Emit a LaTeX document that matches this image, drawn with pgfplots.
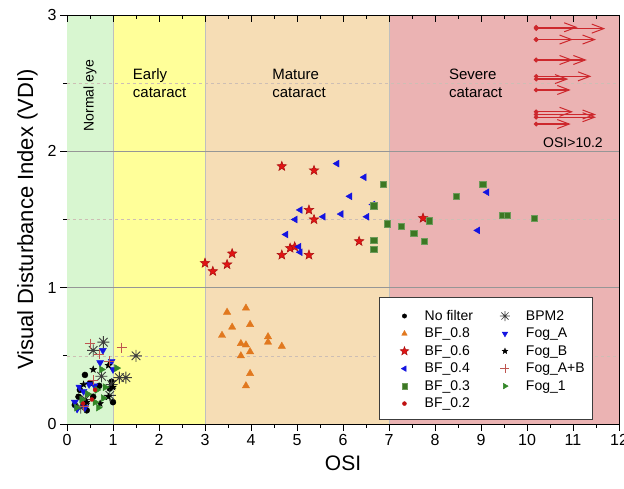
\documentclass[border=0pt]{standalone}
\usepackage{fontspec}
\setmainfont{Liberation Sans}
\usepackage{pgfplots}
\pgfplotsset{compat=1.18}
\usetikzlibrary{arrows.meta}
\definecolor{cNormal}{RGB}{216,246,208}
\definecolor{cEarly}{RGB}{255,255,153}
\definecolor{cMature}{RGB}{246,221,181}
\definecolor{cSevere}{RGB}{235,179,179}
\definecolor{cRed}{RGB}{225,20,20}
\definecolor{cBlue}{RGB}{20,20,225}
\definecolor{cGreen}{RGB}{60,120,35}
\definecolor{cFog}{RGB}{50,135,40}
\definecolor{cOrange}{RGB}{225,120,30}
\definecolor{cGray}{RGB}{60,60,60}
\definecolor{cPlus}{RGB}{190,85,80}
\definecolor{cArrow}{RGB}{205,40,45}
\definecolor{cGrid}{RGB}{150,150,150}
\definecolor{cDash}{RGB}{205,190,180}
% filled five-point star
\pgfdeclareplotmark{fstar}{%
  \pgfpathmoveto{\pgfpointpolar{90}{\pgfplotmarksize}}%
  \pgfpathlineto{\pgfpointpolar{126}{0.42\pgfplotmarksize}}%
  \pgfpathlineto{\pgfpointpolar{162}{\pgfplotmarksize}}%
  \pgfpathlineto{\pgfpointpolar{198}{0.42\pgfplotmarksize}}%
  \pgfpathlineto{\pgfpointpolar{234}{\pgfplotmarksize}}%
  \pgfpathlineto{\pgfpointpolar{270}{0.42\pgfplotmarksize}}%
  \pgfpathlineto{\pgfpointpolar{306}{\pgfplotmarksize}}%
  \pgfpathlineto{\pgfpointpolar{342}{0.42\pgfplotmarksize}}%
  \pgfpathlineto{\pgfpointpolar{18}{\pgfplotmarksize}}%
  \pgfpathlineto{\pgfpointpolar{54}{0.42\pgfplotmarksize}}%
  \pgfpathclose\pgfusepathqfillstroke}
% eight-arm asterisk
\pgfdeclareplotmark{ast8}{%
  \pgfpathmoveto{\pgfpointpolar{0}{\pgfplotmarksize}}\pgfpathlineto{\pgfpointpolar{180}{\pgfplotmarksize}}%
  \pgfpathmoveto{\pgfpointpolar{90}{\pgfplotmarksize}}\pgfpathlineto{\pgfpointpolar{270}{\pgfplotmarksize}}%
  \pgfpathmoveto{\pgfpointpolar{45}{\pgfplotmarksize}}\pgfpathlineto{\pgfpointpolar{225}{\pgfplotmarksize}}%
  \pgfpathmoveto{\pgfpointpolar{135}{\pgfplotmarksize}}\pgfpathlineto{\pgfpointpolar{315}{\pgfplotmarksize}}%
  \pgfusepathqstroke}
\pgfplotsset{
  arr/.style={draw=cArrow,line width=1.3pt,-{Straight Barb[length=12pt,width=9pt,line width=1pt]},forget plot,mark=*,mark size=1.6pt,mark indices={1},mark options={fill=cArrow,draw=cArrow,solid}},
}
\begin{document}
\begin{tikzpicture}
\begin{axis}[name=ax,scale only axis,width=552pt,height=409pt,
  xmin=0,xmax=12,ymin=0,ymax=3,
  xtick={0,1,...,12},ytick={0,1,2,3},minor x tick num=1,minor y tick num=1,
  xtick pos=bottom,ytick pos=left,tick align=outside,
  major tick length=7pt,minor tick length=4pt,
  tick style={line width=0.9pt,black},axis line style={line width=0.9pt},
  tick label style={font=\fontsize{16}{18}\selectfont},
  /pgf/number format/assume math mode=true,
  xlabel={OSI},ylabel={Visual Disturbance Index (VDI)},
  xlabel style={font=\fontsize{21}{24}\selectfont,yshift=-3pt},
  ylabel style={font=\fontsize{22}{24}\selectfont,yshift=3pt},
  legend columns=2,
  legend cell align={left},
  legend style={at={(0.567,0.3105)},anchor=north west,draw=none,fill=none,
    font=\fontsize{14}{16}\selectfont,inner xsep=20pt,inner ysep=11pt,row sep=2.2pt,
    /tikz/every odd column/.append style={column sep=14pt},
    /tikz/every even column/.append style={column sep=25pt}},
]
% stage regions
\addplot[fill=cNormal,draw=none,forget plot] coordinates {(0,0) (1,0) (1,3) (0,3)} -- cycle;
\addplot[fill=cEarly,draw=none,forget plot] coordinates {(1,0) (3,0) (3,3) (1,3)} -- cycle;
\addplot[fill=cMature,draw=none,forget plot] coordinates {(3,0) (7,0) (7,3) (3,3)} -- cycle;
\addplot[fill=cSevere,draw=none,forget plot] coordinates {(7,0) (12,0) (12,3) (7,3)} -- cycle;
\addplot[draw=black!25,line width=0.6pt,forget plot] coordinates {(1,0) (1,3)};
\addplot[draw=black!25,line width=0.6pt,forget plot] coordinates {(3,0) (3,3)};
\addplot[draw=black!25,line width=0.6pt,forget plot] coordinates {(7,0) (7,3)};
% grid
\addplot[draw=cGrid,line width=0.9pt,forget plot] coordinates {(0,1) (12,1)};
\addplot[draw=cGrid,line width=0.9pt,forget plot] coordinates {(0,2) (12,2)};
\addplot[draw=cDash,dashed,line width=0.6pt,forget plot] coordinates {(0,0.5) (12,0.5)};
\addplot[draw=cDash,dashed,line width=0.6pt,forget plot] coordinates {(0,1.5) (12,1.5)};
\addplot[draw=cDash,dashed,line width=0.6pt,forget plot] coordinates {(0,2.5) (12,2.5)};
% legend frame
\draw[draw=cGray,line width=0.8pt,fill=white] (axis cs:6.80,0.932) rectangle (axis cs:11.43,0.037);
% stage labels
\node[font=\fontsize{14}{16}\selectfont,rotate=90] at (axis cs:0.5,2.41) {Normal eye};
\node[font=\fontsize{15}{18}\selectfont,align=left,anchor=west,inner sep=0pt] at (axis cs:1.43,2.50) {Early\\cataract};
\node[font=\fontsize{15}{18}\selectfont,align=left,anchor=west,inner sep=0pt] at (axis cs:4.46,2.50) {Mature\\cataract};
\node[font=\fontsize{15}{18}\selectfont,align=left,anchor=west,inner sep=0pt] at (axis cs:8.30,2.50) {Severe\\cataract};
\node[font=\fontsize{14}{16}\selectfont] at (axis cs:11.0,2.06) {OSI>10.2};
% OSI > 10.2 arrows
\addplot[arr] coordinates {(10.2,2.90) (11.7,2.90)};
\addplot[arr] coordinates {(10.2,2.91) (11.1,2.91)};
\addplot[arr] coordinates {(10.2,2.82) (11.5,2.82)};
\addplot[arr] coordinates {(10.2,2.82) (11.0,2.82)};
\addplot[arr] coordinates {(10.2,2.67) (11.3,2.67)};
\addplot[arr] coordinates {(10.2,2.67) (11.0,2.67)};
\addplot[arr] coordinates {(10.2,2.55) (11.4,2.55)};
\addplot[arr] coordinates {(10.2,2.53) (10.9,2.53)};
\addplot[arr] coordinates {(10.2,2.45) (10.95,2.45)};
\addplot[arr] coordinates {(10.2,2.29) (11.0,2.29)};
\addplot[arr] coordinates {(10.2,2.27) (11.5,2.27)};
\addplot[arr] coordinates {(10.2,2.25) (11.5,2.25)};
\addplot[arr] coordinates {(10.2,2.20) (10.95,2.20)};
% data
\addplot[only marks,mark=*,mark size=3pt,draw=black,fill=black,legend image post style={mark size=2.2pt}] coordinates {
(0.39,0.36) (0.97,0.31) (0.93,0.26) (1.00,0.16) (0.57,0.20) (0.36,0.14) (0.28,0.25) (0.50,0.30) (0.17,0.14) (0.43,0.10) (0.70,0.28) (0.25,0.20)};
\addlegendentry{No filter}
\addplot[only marks,mark=ast8,mark size=6pt,draw=cGray,line width=0.9pt,legend image post style={mark size=5pt,line width=0.7pt}] coordinates {
(0.79,0.60) (0.57,0.54) (1.50,0.50) (1.28,0.34) (1.14,0.34) (0.97,0.29) (0.93,0.21) (0.75,0.35) (0.40,0.18) (0.30,0.12)};
\addlegendentry{BPM2}
\addplot[only marks,mark=triangle*,mark size=4.2pt,draw=cOrange,fill=cOrange,legend image post style={mark size=3.2pt}] coordinates {
(3.48,0.82) (3.89,0.85) (3.59,0.71) (3.98,0.73) (3.37,0.65) (4.37,0.64) (4.37,0.60) (4.67,0.57) (3.78,0.59) (3.89,0.58) (3.98,0.53) (3.78,0.50) (3.98,0.37) (3.89,0.28)};
\addlegendentry{BF\_0.8}
\addplot[only marks,mark=triangle*,mark size=4pt,draw=cBlue,fill=cBlue,mark options={rotate=180},legend image post style={mark size=3.2pt}] coordinates {
(0.78,0.54) (0.72,0.45) (0.97,0.46) (1.00,0.40) (0.48,0.29) (0.27,0.27) (0.17,0.16) (0.39,0.12) (0.36,0.24) (0.60,0.28) (0.22,0.11)};
\addlegendentry{Fog\_A}
\addplot[only marks,mark=fstar,mark size=5pt,draw=cRed!75!black,fill=cRed,line width=0.5pt,legend image post style={mark size=4.5pt}] coordinates {
(3.00,1.18) (3.17,1.12) (3.48,1.17) (3.59,1.25) (4.67,1.89) (5.37,1.86) (5.26,1.57) (5.37,1.50) (4.67,1.24) (4.85,1.29) (4.95,1.30) (5.26,1.24) (6.35,1.34) (7.74,1.51)};
\addlegendentry{BF\_0.6}
\addplot[only marks,mark=fstar,mark size=3.5pt,draw=black,fill=black,legend image post style={mark size=3pt}] coordinates {
(0.57,0.40) (0.90,0.43) (1.00,0.27) (0.90,0.20) (0.36,0.29) (0.43,0.16) (0.72,0.15)};
\addlegendentry{Fog\_B}
\addplot[only marks,mark=triangle*,mark size=4pt,draw=cBlue,fill=cBlue,mark options={rotate=90},legend image post style={mark size=3.2pt}] coordinates {
(5.87,1.91) (6.46,1.81) (6.15,1.67) (6.65,1.61) (5.07,1.57) (5.57,1.52) (5.96,1.54) (6.52,1.52) (4.96,1.50) (4.76,1.39) (5.04,1.30) (5.07,1.26) (9.13,1.70) (8.93,1.42)};
\addlegendentry{BF\_0.4}
\addplot[only marks,mark=+,mark size=5pt,draw=cPlus,line width=0.9pt,legend image post style={mark size=4.5pt,line width=0.6pt}] coordinates {
(1.19,0.56) (0.50,0.59) (0.70,0.51) (0.92,0.46) (0.57,0.32) (0.36,0.13)};
\addlegendentry{Fog\_A+B}
\addplot[only marks,mark=square*,mark size=3.2pt,draw=cGreen!75!white,fill=cGreen,legend image post style={mark size=2.6pt}] coordinates {
(6.87,1.76) (6.67,1.60) (6.96,1.47) (7.26,1.45) (7.54,1.40) (7.76,1.34) (7.87,1.49) (6.67,1.35) (6.67,1.28) (9.04,1.76) (8.46,1.67) (9.46,1.53) (9.57,1.53) (10.15,1.51)};
\addlegendentry{BF\_0.3}
\addplot[only marks,mark=triangle*,mark size=4pt,draw=cFog,fill=cFog,mark options={rotate=-90},legend image post style={mark size=3.2pt}] coordinates {
(1.08,0.41) (0.75,0.40) (0.83,0.27) (0.65,0.25) (0.79,0.19) (0.61,0.16) (0.68,0.12) (0.32,0.18) (0.21,0.12) (0.45,0.22)};
\addlegendentry{Fog\_1}
\addplot[only marks,mark=*,mark size=2pt,draw=cRed!85!black,fill=cRed!85!black,legend image post style={mark size=2pt}] coordinates {
(0.54,0.18) (0.35,0.15) (0.61,0.25)};
\addlegendentry{BF\_0.2}
\end{axis}
\begin{axis}[scale only axis,width=552pt,height=409pt,xmin=0,xmax=12,ymin=0,ymax=3,
  axis x line*=top,axis y line*=right,xtick={0,1,...,12},minor x tick num=1,xticklabels={},ytick=\empty,
  tick align=inside,major tick length=7pt,minor tick length=4pt,
  tick style={line width=0.9pt,black},axis line style={line width=0.9pt,-}]
\end{axis}
\pgfresetboundingbox
\path ([xshift=-67pt,yshift=-65pt]ax.south west) rectangle ([xshift=5pt,yshift=15pt]ax.north east);
\end{tikzpicture}
\end{document}
